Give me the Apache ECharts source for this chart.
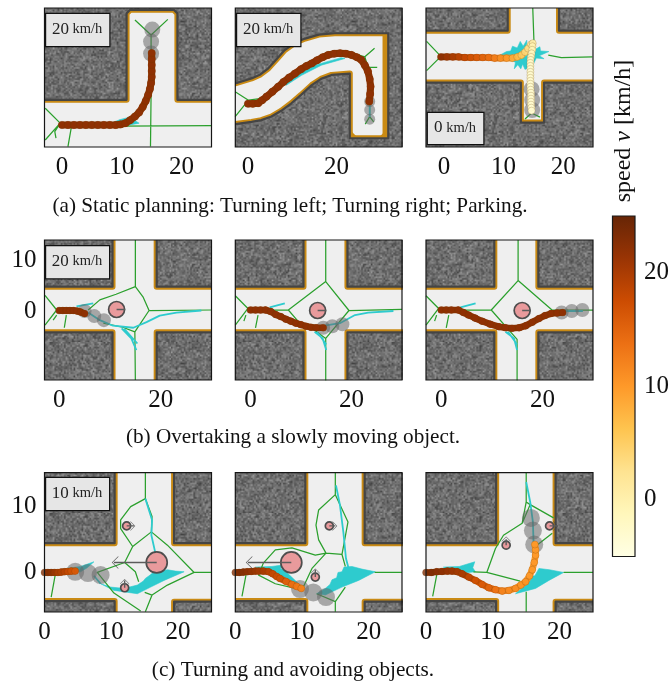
<!DOCTYPE html>
<html><head><meta charset="utf-8">
<style>html,body{margin:0;padding:0;background:#fff}#c{width:672px;height:687px}</style>
<script src="https://cdn.jsdelivr.net/npm/echarts@6/dist/echarts.min.js"></script>
</head><body><div id="c"></div>
<script>
/* ---------- colour scale ---------- */
const speedMin=-5, speedMax=25;
const speedRamp=['#ffffe5','#fff7bc','#fee391','#fec44f','#fe9929','#ec7014','#cc4c02','#993404','#662506'];
const speedTicks=[0,10,20];
/* ---------- tick labels ---------- */
const ticksA=[0,10,20], ticksP2=[0,20], ticksB=[0,20], ticksY=[0,10];
const captions=['(a) Static planning: Turning left; Turning right; Parking.','(b) Overtaking a slowly moving object.','(c) Turning and avoiding objects.'];
/* ---------- panel a1 ---------- */
const a1Walls=[[[-5,30],[-5,4.2],[10.8,4.2],[10.8,18.6],[11.4,19.2],[18.7,19.2],[19.3,18.6],[19.3,4.2],[30,4.2],[30,30]]];
const a1Green=[[[-2.8,2.8],[-.3,.3],[-2.8,-2.5]],[[-.3,.3],[-1.2,-1.1],[-1,-2.2]],[[1.6,-.2],[1,-3.6]],[[9.7,-.2],[25,-.1]],[[14.9,5.3],[14.8,-3.6]],[[12.2,17.5],[14.9,15],[17.7,17.6]],[[14.9,15],[14.9,12.5]]];
const a1Cyan=[[[8,.2],[9.7,.9],[11.3,1.3],[12.9,.3],[10.2,-.2]]];
const a1CyanLines=[];
const a1Ghost=[[15.1,15.9],[14.9,13.9],[14.9,11.9]];
const a1Path=[[0,0,22],[1,0,22],[2,0,22],[3,0,22],[4,0,22],[5,0,22],[6,0,22],[7,0,22],[8,0,22],[9,0,22],[9.8,.1,22],[10.6,.3,22],[11.4,.8,22],[12.2,1.4,22],[12.9,2.1,22],[13.5,3,22],[14,4,22],[14.4,5,22],[14.7,6,22],[14.9,7,22],[15,8,22],[15,9,22],[15,10,22],[15,11,22],[15,12,22]];
/* ---------- panel a2 ---------- */
const a2Walls=[[[-5,4.6],[-2.9,4.6],[.8,5.7],[2.8,6.6],[4.6,8],[6.4,10],[8.3,12.1],[10.5,13.7],[12.9,14.7],[16,15.6],[19.6,15.9],[31.7,15.9],[31.7,-7.8],[23,-7.8],[23,6.8],[18.9,6.5],[16.5,5.6],[14.4,4.2],[12,2],[9.8,.1],[7.5,-1.6],[5.3,-2.9],[3,-3.7],[.8,-4.1],[-2.9,-4.6],[-5,-4.6],[-5,-15],[40,-15],[40,30],[-5,30]]];
const a2Chamfer=[[[31.6,15.8],[30,15.8],[31.6,14]],[[23,-7.7],[23,-5.8],[24.8,-7.7]],[[31.6,-7.7],[29.5,-7.7],[31.6,-5.6]],[[30.4,15.8],[31.6,15.8],[31.6,-7.7],[30.4,-7.7]]];
const a2Green=[[[-2.9,2.7],[.1,.8],[-2.9,-2.9]],[[.1,.8],[3.1,1.2]],[[28.6,12.5],[26.4,10.6],[24.9,11]],[[26.4,10.6],[27.1,8.2],[29.2,8.2]],[[27.5,.1],[27.5,-2.9],[26.5,-4.6]],[[27.5,-2.9],[28.4,-4.1]]];
const a2Cyan=[[[7.6,4.6],[11.4,6.7],[15.1,8.7],[21.1,10.4],[21.9,10.2],[16.6,8.7],[12.1,6.4],[8.7,4.2]]];
const a2CyanLines=[[[27.5,.2],[27.5,-3]]];
const a2Ghost=[[27.5,.5],[27.5,-1.4],[27.5,-3.5]];
const a2Path=[[0,0,22],[1.1,.0,22],[2.3,.1,22],[3.2,.8,22],[4.2,1.6,22],[5.5,2.7,22],[6.8,3.8,22],[8,4.9,22],[9.3,5.9,22],[10.6,6.8,22],[12,7.8,22],[13.2,8.5,22],[14.4,9.1,22],[15.6,9.8,22],[16.9,10.5,22],[18.1,11,22],[19.5,11.3,22],[20.8,11.4,22],[22.1,11.3,22],[23.4,11,22],[24.6,10.5,22],[25.6,9.9,22],[26.4,8.7,22],[27.1,7.3,22],[27.5,5.6,22],[27.7,3.9,22],[27.6,2.2,22],[27.4,.5,22]];
/* ---------- panel a3 ---------- */
const a3Walls=[[[-5,12],[-5,4.4],[10.7,4.4],[10.7,12]],[[19.3,12],[19.3,4.4],[30,4.4],[30,12]],[[-5,-4.3],[12.9,-4.3],[12.9,-11],[16.8,-11],[16.8,-4.3],[30,-4.3],[30,-20],[-5,-20]]];
const a3Green=[[[-2.9,2.6],[-.5,.1],[-2.9,-2.3]],[[14.9,8.2],[15.1,2.6]],[[17.5,.3],[19.7,-.1],[24.9,0]],[[13.6,-10.4],[14.7,-9.4],[16.1,-10.1]]];
const a3Cyan=[[[9.4,.3],[10.5,.9],[11.2,1],[11.5,1.8],[12.3,1.5],[12.8,2.6],[13.3,1.8],[13.9,2.8],[13.9,1.7],[14.5,2],[15.2,1.2],[16.1,1.7],[16.2,1],[17.6,.9],[16,.2],[16.8,-.3],[15.5,-.2],[15,-1.2],[14.9,-3.9],[14.4,-3.9],[14.1,-1.8],[13.6,-2.1],[13.2,-1.2],[12.9,-2],[12.4,-1.3],[11.8,-2],[12,-.9],[11.3,-.6],[10.4,-.2]]];
const a3CyanLines=[];
const a3Ghost=[[14.7,-5.4],[14.8,-7.2],[14.8,-8.9]];
const a3Path=[[-.5,0,22],[.5,0,21],[1.5,0,20],[2.5,0,19],[3.5,-.1,18],[4.5,-.1,17],[5.5,-.1,16],[6.5,-.1,15],[7.5,-.1,14],[8.5,-.2,12.5],[9.5,-.2,11],[10.5,-.2,10],[11.5,-.2,8.5],[12.3,0,7],[13,.3,5.5],[13.6,.8,4],[14.1,1.4,3],[14.6,2.1,1.5],[14.9,2.3,0],[14.85,1.8,-.5],[14.8,1.2,-1],[14.7,.6,-1.5],[14.6,0,-2],[14.55,-.5,-2],[14.5,-1,-2.5],[14.5,-1.5,-2.5],[14.5,-2,-3],[14.5,-2.5,-3],[14.5,-3,-3],[14.5,-3.5,-3],[14.5,-4,-3],[14.5,-4.5,-3],[14.5,-5,-3],[14.55,-5.5,-3],[14.6,-6,-3],[14.6,-6.5,-3],[14.6,-7,-3],[14.6,-7.5,-3],[14.6,-8,-3],[14.65,-8.5,-3],[14.7,-9,-3]];
/* ---------- row b ---------- */
const bWalls=[[[-5,20],[-5,4.8],[10.5,4.8],[10.5,20]],[[19.2,20],[19.2,4.8],[35,4.8],[35,20]],[[-5,-20],[-5,-4.2],[10.5,-4.2],[10.5,-20]],[[19.2,-20],[19.2,-4.2],[35,-4.2],[35,-20]]];
const b1Green=[[[-2.8,3.1],[-.5,.2],[-2.8,-2.8]],[[-.5,-.8],[-1.2,-1.8]],[[1.4,-.8],[1,-3.3]],[[15,14],[15,4.8],[11.2,3.3],[8,2.2],[5.7,.2]],[[15,4.8],[16.5,2.8],[17.7,.1],[30,.2]],[[17.7,.1],[14.9,-4.1],[15,-13.6]],[[14.9,-4.1],[12.5,-3.2],[8.7,-2.4]]];
const b1Cyan=[];
const b1CyanLines=[[[5.7,-.3],[8,-1.8],[10.6,-2.9],[14.6,-3.3],[17.2,-2.2],[19.8,-.9],[23.1,-.3],[28,.1]],[[12.3,-3.4],[14.2,-5.4],[15.2,-7.7]],[[12.8,-3.5],[15.4,-6.4]],[[3.4,.9],[6.7,1.5]]];
const b1Ghost=[[5,0],[6.9,-1],[8.8,-1.8]];
const b1Ped=[[11.3,.3,16]];
const b1PedLines=[[[11.3,.3],[13,.3]]];
const b1Path=[[0,.1,22],[.7,.1,22],[1.4,.1,22],[2.1,.1,22],[2.8,.1,22],[3.5,0,22],[4.2,-.2,22],[5,-.5,22]];
const b2Green=[[[-3,3],[-.5,.5],[-3,-2.8]],[[-.9,-.8],[-1.3,-2]],[[1.5,-.8],[1,-3.3]],[[14.9,14],[14.9,5.8],[7.5,.2],[9.4,-2]],[[7.5,.2],[3,.2]],[[14.9,5.8],[19.5,.1],[30,.3]],[[19.5,.1],[14.9,-5.4],[14.9,-13.7]],[[14.9,-5.4],[12.7,-3.8]]];
const b2Cyan=[];
const b2CyanLines=[[[14.7,-2.9],[17.7,-2.4],[20.7,-.8],[23.3,-.3],[28.3,0]],[[12.7,-4.1],[14.3,-5.4],[15,-7.7]],[[13.2,-4.1],[15,-6.6]],[[3.8,.7],[6.8,1.5]]];
const b2Ghost=[[14.4,-3.3],[16.2,-3],[18.2,-2.6]];
const b2Ped=[[13.3,.1,16]];
const b2PedLines=[[[13.3,.1],[15,.1]]];
const b2Path=[[0,.2,22],[1,.2,22],[2,.2,22],[3,.2,22],[4,-.1,22],[5,-.7,22],[6,-1.1,22],[7,-1.6,22],[8,-2,22],[9,-2.4,22],[10,-2.7,22],[11,-3,22],[12,-3.2,22],[13,-3.3,22],[14.4,-3.3,22]];
const b3Green=[[[-3,3],[-.5,.5],[-3,-2.8]],[[-.9,-.8],[-1.3,-2]],[[1.5,-.8],[1,-3.3]],[[15.2,14],[15.2,6],[9.9,.2],[3,.2]],[[15.2,6],[21.9,.2],[30,.2]],[[9.9,.2],[15,-5.6],[15,-13.7]]];
const b3Cyan=[];
const b3CyanLines=[[[3.8,.7],[6.8,1.5]],[[12.7,-4.1],[14.4,-5.4],[15,-7.7]],[[13.2,-4.1],[15,-6.6]],[[23.5,0],[28,0]]];
const b3Ghost=[[23.8,-.3],[25.8,0],[27.9,.2]];
const b3Ped=[[16,.1,16]];
const b3PedLines=[[[16,.1],[17.7,.1]]];
const b3Path=[[0,.2,22],[1,.2,22],[2,.2,22],[3.4,.2,22],[4.4,-.3,22],[5.4,-.8,22],[6.7,-1.4,22],[8.1,-2,22],[9.7,-2.6,22],[11.4,-3.1,22],[12.7,-3.3,22],[14,-3.4,22],[15.4,-3.3,22],[16.7,-2.9,22],[18,-2.2,22],[19.3,-1.5,22],[20.5,-.9,22],[21.7,-.5,22],[22.9,-.4,22],[24,-.3,22]];
/* ---------- row c ---------- */
const cWalls=[[[-5,20],[-5,4.4],[10.5,4.4],[10.5,20]],[[19.4,20],[19.4,4.4],[30,4.4],[30,20]],[[-5,-10],[-5,-4.3],[10.5,-4.3],[10.5,-10]],[[19.4,-10],[19.4,-4.4],[30,-4.4],[30,-10]]];
const c1Green=[[[15.1,15],[15.1,11.1],[12.9,9.9],[11.4,7.9],[11.4,6.6],[13.2,3.9],[12,1.5]],[[15.1,11.1],[16.1,8.4],[16,6.1],[13.2,3.9]],[[16,6.1],[18.4,4.1],[22.4,0],[25,0]],[[22.4,0],[18.4,-1.9],[16.1,-3.4],[15.1,-5.9]],[[16.1,-3.4],[15,-3]],[[12,1.5],[7.9,0],[10.4,-3.1],[14.4,-5.8]],[[12,1.5],[13.6,.1],[14.1,-1.4]],[[1.6,-.4],[1,-3.7]]];
const c1Cyan=[[[8.4,-1.7],[10.4,-2.7],[13.9,-3.2],[15.9,-2.2],[17.9,-1.2],[20.9,.1],[19.6,.2],[18.4,.4],[17.4,.2],[16.4,.1],[15.8,-.4],[15.1,-.9],[14.8,-1.3],[13.9,-1.9],[11.9,-2.4],[9.9,-2.2]],[[2.6,.5],[5.4,.9],[7.4,1.6],[6.4,.7],[5.4,.1],[3.4,.1]]];
const c1CyanLines=[[[15.1,11.1],[16.1,7.9],[16,5.6],[16.6,2.9]],[[7.4,-.5],[8.4,-1.7]]];
const c1Ghost=[[4.6,.1],[6.5,-.1],[8.4,-.4]];
const c1Ped=[[16.8,1.5,21],[12.3,7,8],[12,-2.3,8]];
const c1PedLines=[[[16.8,1.5],[10.4,1.5]],[[12.3,7],[13.4,7]],[[12,-2.3],[12,-1.2]]];
const c1Heads=[[10.6,1.5,180,12],[13.2,7,0,9],[12,-1.4,90,9]];
const c1Path=[[0,0,23],[.5,0,22.5],[1,0,22],[1.5,0,21],[2,0,20],[2.5,.05,19.5],[3,.1,19],[3.5,.15,18],[4,.2,17],[4.6,.2,16]];
const c2Green=[[[15,15],[15,11.7],[12.5,9.4],[12.1,7.1],[12.5,4.9],[13.6,2.9]],[[15,11.7],[16.9,7.6],[16,2.7],[13.6,2.9]],[[16,2.7],[16.5,.9]],[[13.6,2.9],[12,2.6],[8.5,3.7],[6,3.4],[4.2,1.4],[3.5,-.4],[6,-1.7],[9,-2.4]],[[13.6,2.9],[11.5,.6],[10.2,-2.2]],[[16.5,-2.2],[15,-4.4],[15,-5.9]],[[12.2,-3.2],[15,-4.4]],[[20.9,0],[25,0]],[[1.6,-.4],[1,-3.6]]];
const c2Cyan=[[[12.2,-3.2],[13.5,-2.4],[14.2,-1.8],[14.5,-1.1],[15.2,-.8],[15.4,0],[16,.1],[16.3,.8],[17.5,.9],[19,.5],[21,.1],[18.5,-1.2],[16,-2.2],[13.5,-3.4]],[[3,.8],[5.5,.9],[7,1.1],[6.8,.6],[7.5,.2],[9.5,-1.7],[8,-1.2],[5,-.1]]];
const c2CyanLines=[[[15.1,13.1],[15.7,10.1],[16.2,6.1],[16.6,2.1],[17,.6]]];
const c2Ghost=[[9.7,-2.5],[11.7,-3],[13.6,-3.7]];
const c2Ped=[[8.4,1.5,21],[14.1,7,8],[12,-.7,8]];
const c2PedLines=[[[8.4,1.5],[1.9,1.5]],[[14.1,7],[15,7]],[[12,-.7],[12,.4]]];
const c2Heads=[[2.1,1.5,180,12],[14.9,7,0,9],[12,.2,90,9]];
const c2Path=[[0,0,23],[.6,0,23],[1.2,.05,22.5],[1.8,.1,22],[2.4,.15,21.5],[3,.2,21],[3.5,.2,20.5],[4.2,.2,20],[5,.1,19],[5.6,-.2,18],[6.2,-.6,17.5],[6.7,-.9,17],[7.6,-1.35,15.5],[8.5,-1.8,14],[9.2,-2.1,13],[9.9,-2.4,12]];
const c3Green=[[[15,15],[15,10.6],[14.4,7.4],[11.6,5.6],[10.4,3.6],[9.1,0],[14.1,-1.3]],[[9.1,0],[7.1,.1]],[[15,10.6],[15.6,10.2],[19.1,8.2]],[[14.4,7.4],[15.6,10.2]],[[18.9,5.9],[16.6,4.1]],[[15,-2.9],[15,-5.9]],[[20.6,0],[25,0]],[[1.6,-.4],[1,-3.6]]];
const c3Cyan=[[[13.4,-3.2],[15.4,-1.4],[15.6,-.6],[16.3,-.5],[16.9,.6],[18.5,.4],[20.6,0],[18.4,-1.2],[16.4,-2.4]],[[2.6,.8],[5,.9],[7.3,1.6],[7,.7],[7.4,.1],[4.4,-.2]]];
const c3CyanLines=[[[15,13.6],[15.6,10.6],[16,7.6],[16.1,4.6]]];
const c3Ghost=[[15.7,8.2],[16,6.3],[16.2,4.2]];
const c3Ped=[[12,4.1,8],[18.5,7,8]];
const c3PedLines=[[[12,4.1],[12,5]],[[18.5,7],[19.6,7]]];
const c3Heads=[[12,5,90,9],[19.4,7,0,9]];
const c3Path=[[0,0,23],[.8,0,23],[1.6,.1,22.5],[2.4,.15,22],[3.2,.2,21.5],[3.9,.2,21],[4.7,.1,20.5],[5.4,-.2,20],[6.4,-.7,18.5],[7.4,-1.2,17],[8.4,-1.8,16],[9.4,-2.3,15],[10.4,-2.6,13.5],[11.4,-2.8,12],[12.4,-2.7,11.5],[13.4,-2.4,11],[14.2,-1.9,10.5],[14.9,-1.4,10.5],[15.5,-.5,10],[15.9,.4,10],[16.2,1.5,10],[16.4,2.6,10],[16.4,3.4,10],[16.3,4.2,10]];
/* ---------- read-out boxes ---------- */
const boxA1='20', boxA2='20', boxA3='0', boxB1='20', boxC1='10';

const rampColor=v=>echarts.color.lerp(Math.max(0,Math.min(1,(v-speedMin)/(speedMax-speedMin))),speedRamp);

/* asphalt texture (deterministic hash, purely decorative) */
function makeAsphalt(){
  const s=107,small=document.createElement('canvas');small.width=small.height=s;
  const c=small.getContext('2d'),img=c.createImageData(s,s);
  let st=1234567;
  const next=()=>{st=(st*48271)%2147483647;return st/2147483647;};
  for(let i=0;i<200;i++)next();
  for(let y=0;y<s;y++)for(let x=0;x<s;x++){
    const n=(next()+next())/2;
    const g=Math.round(62+n*96),i=(y*s+x)*4;
    img.data[i]=img.data[i+1]=img.data[i+2]=g;img.data[i+3]=255;
  }
  c.putImageData(img,0,0);
  const T=Math.round(s*1.6),big=document.createElement('canvas');big.width=big.height=T;
  const b=big.getContext('2d');b.imageSmoothingEnabled=true;b.drawImage(small,0,0,T,T);
  return big;
}
const asphalt=makeAsphalt();

const chart=echarts.init(document.getElementById('c'),null,{renderer:'canvas'});
const SERIF='"Liberation Serif","Times New Roman",serif';
const grids=[],xAxes=[],yAxes=[],series=[],graphics=[];
const lab={fontFamily:SERIF,fontSize:25,color:'#111',margin:8};

function broken(list){const out=[];list.forEach((l,i)=>{if(i)out.push(['-','-']);l.forEach(p=>out.push(p));});return out;}
function polySeries(g,polys,style){
  return {type:'custom',xAxisIndex:g,yAxisIndex:g,clip:true,silent:true,data:polys.map((_,i)=>[i]),
    encode:{x:[],y:[]},
    renderItem:(p,api)=>({type:'polygon',shape:{points:polys[p.dataIndex].map(q=>api.coord(q))},style:Object.assign({},style)})};
}
function lineSeries(g,lines,color,width){
  return {type:'line',xAxisIndex:g,yAxisIndex:g,data:broken(lines),showSymbol:false,symbol:'none',silent:true,connectNulls:false,
    lineStyle:{color,width,join:'round'},z:2};
}
function addPanel(o){
  const g=grids.length;
  grids.push({left:o.box[0],top:o.box[1],width:o.box[2],height:o.box[3],show:true,backgroundColor:'#efefef',borderWidth:0,containLabel:false});
  xAxes.push({type:'value',gridIndex:g,min:o.x[0],max:o.x[1],splitLine:{show:false},axisLine:{show:false},axisTick:{show:false},
    axisLabel:Object.assign({},lab,{customValues:o.xTicks})});
  yAxes.push({type:'value',gridIndex:g,min:o.y[0],max:o.y[1],splitLine:{show:false},axisLine:{show:false},axisTick:{show:false},
    axisLabel:o.yTicks?Object.assign({},lab,{customValues:o.yTicks}):{show:false}});
  series.push(polySeries(g,o.walls,{fill:'none',stroke:'#c98a14',lineWidth:6,lineJoin:'round'}));
  if(o.chamfer)series.push(polySeries(g,o.chamfer,{fill:'#c98a14'}));
  series.push(polySeries(g,o.walls,{fill:{image:asphalt,repeat:'repeat'},stroke:'#454545',lineWidth:2.2,lineJoin:'round'}));
  series.push(lineSeries(g,o.green,'#2ba02d',1.25));
  if(o.cyan.length)series.push(polySeries(g,o.cyan,{fill:'#2ecbce',stroke:'#2ecbce',lineWidth:.6}));
  if(o.cyanLines.length)series.push(lineSeries(g,o.cyanLines,'#2ecbce',1.8));
  series.push({type:'scatter',xAxisIndex:g,yAxisIndex:g,data:o.ghost,symbolSize:o.ghostSize,silent:true,
    itemStyle:{color:'rgba(100,100,100,0.66)'},z:3});
  series.push({type:'custom',xAxisIndex:g,yAxisIndex:g,clip:true,silent:true,z:4,data:o.path,encode:{x:0,y:1},
    renderItem:(p,api)=>{
      const i=p.dataIndex;if(i>=o.path.length-1)return null;
      const a=api.coord(o.path[i]),b=api.coord(o.path[i+1]);
      return {type:'line',shape:{x1:a[0],y1:a[1],x2:b[0],y2:b[1]},style:{stroke:rampColor(o.path[i][2]),lineWidth:o.size-.4,lineCap:'round'}};
    }});
  series.push({type:'scatter',xAxisIndex:g,yAxisIndex:g,data:o.path,symbolSize:o.size,silent:true,z:5,
    itemStyle:{color:p=>rampColor(p.value[2]),borderColor:'rgba(110,60,0,0.45)',borderWidth:.6}});
  if(o.ped){
    series.push({type:'scatter',xAxisIndex:g,yAxisIndex:g,data:o.ped,symbolSize:v=>v[2],silent:true,z:6,
      itemStyle:{color:'#e99a9c',borderColor:'#4d4d4d',borderWidth:1.7,opacity:1}});
    series.push(Object.assign(lineSeries(g,o.pedLines,'#5c5c5c',1.4),{z:7}));
  }
  if(o.heads)series.push({type:'scatter',xAxisIndex:g,yAxisIndex:g,data:o.heads,silent:true,z:7,
    symbol:'path://M0,0 L6,6 L0,12 L1,12 L7,6 L1,0 Z',symbolKeepAspect:true,symbolSize:v=>v[3],symbolRotate:v=>v[2],
    itemStyle:{color:'#444'}});
  series.push({type:'custom',xAxisIndex:g,yAxisIndex:g,clip:false,silent:true,z:9,data:[[0]],encode:{x:[],y:[]},
    renderItem:p=>({type:'rect',shape:{x:p.coordSys.x,y:p.coordSys.y,width:p.coordSys.width,height:p.coordSys.height},style:{fill:'none',stroke:'#161616',lineWidth:1.2}})});
}
const rowA=[8,139], rowB=[240,140], rowC=[472.7,139.3];
const colL=[44.5,167], colM=[235.3,166.7], colR=[426,167];
addPanel({box:[colL[0],rowA[0],colL[1],rowA[1]],x:[-2.92,25],y:[-3.67,19.5],xTicks:ticksA,walls:a1Walls,green:a1Green,cyan:a1Cyan,cyanLines:a1CyanLines,ghost:a1Ghost,ghostSize:16,path:a1Path,size:7.5});
addPanel({box:[colM[0],rowA[0],colM[1],rowA[1]],x:[-2.87,34.8],y:[-9.77,21.6],xTicks:ticksP2,walls:a2Walls,chamfer:a2Chamfer,green:a2Green,cyan:a2Cyan,cyanLines:a2CyanLines,ghost:a2Ghost,ghostSize:11,path:a2Path,size:7.5});
addPanel({box:[colR[0],rowA[0],colR[1],rowA[1]],x:[-3,25],y:[-15.1,8.2],xTicks:ticksA,walls:a3Walls,green:a3Green,cyan:a3Cyan,cyanLines:a3CyanLines,ghost:a3Ghost,ghostSize:16,path:a3Path,size:7});
addPanel({box:[colL[0],rowB[0],colL[1],rowB[1]],x:[-2.9,30],y:[-13.6,14],xTicks:ticksB,yTicks:ticksY,walls:bWalls,green:b1Green,cyan:b1Cyan,cyanLines:b1CyanLines,ghost:b1Ghost,ghostSize:14,ped:b1Ped,pedLines:b1PedLines,path:b1Path,size:7});
addPanel({box:[colM[0],rowB[0],colM[1],rowB[1]],x:[-3,30],y:[-13.6,14],xTicks:ticksB,walls:bWalls,green:b2Green,cyan:b2Cyan,cyanLines:b2CyanLines,ghost:b2Ghost,ghostSize:14,ped:b2Ped,pedLines:b2PedLines,path:b2Path,size:7});
addPanel({box:[colR[0],rowB[0],colR[1],rowB[1]],x:[-3,30],y:[-13.6,14],xTicks:ticksB,walls:bWalls,green:b3Green,cyan:b3Cyan,cyanLines:b3CyanLines,ghost:b3Ghost,ghostSize:14,ped:b3Ped,pedLines:b3PedLines,path:b3Path,size:7});
addPanel({box:[colL[0],rowC[0],colL[1],rowC[1]],x:[0,25],y:[-5.95,15],xTicks:ticksA,yTicks:ticksY,walls:cWalls,green:c1Green,cyan:c1Cyan,cyanLines:c1CyanLines,ghost:c1Ghost,ghostSize:18,ped:c1Ped,pedLines:c1PedLines,heads:c1Heads,path:c1Path,size:7});
addPanel({box:[colM[0],rowC[0],colM[1],rowC[1]],x:[0,25],y:[-5.95,15],xTicks:ticksA,walls:cWalls,green:c2Green,cyan:c2Cyan,cyanLines:c2CyanLines,ghost:c2Ghost,ghostSize:18,ped:c2Ped,pedLines:c2PedLines,heads:c2Heads,path:c2Path,size:7});
addPanel({box:[colR[0],rowC[0],colR[1],rowC[1]],x:[0,25],y:[-5.95,15],xTicks:ticksA,walls:cWalls,green:c3Green,cyan:c3Cyan,cyanLines:c3CyanLines,ghost:c3Ghost,ghostSize:18,ped:c3Ped,pedLines:c3PedLines,heads:c3Heads,path:c3Path,size:7});

/* colour bar */
const cb=grids.length;
grids.push({left:612.5,top:216,width:22.7,height:340.5,show:false});
xAxes.push({type:'value',gridIndex:cb,min:0,max:1,show:false});
yAxes.push({type:'value',gridIndex:cb,min:speedMin,max:speedMax,position:'right',splitLine:{show:false},axisLine:{show:false},axisTick:{show:false},
  axisLabel:Object.assign({},lab,{customValues:speedTicks,margin:9})});
series.push({type:'custom',xAxisIndex:cb,yAxisIndex:cb,silent:true,data:[[0]],encode:{x:[],y:[]},
  renderItem:p=>({type:'rect',shape:{x:p.coordSys.x,y:p.coordSys.y,width:p.coordSys.width,height:p.coordSys.height},
    style:{fill:new echarts.graphic.LinearGradient(0,1,0,0,speedRamp.map((c,i)=>({offset:i/(speedRamp.length-1),color:c}))),stroke:'#1a1a1a',lineWidth:1.2}})});

/* read-out boxes */
function readout(x,y,w,h,val){
  graphics.push({type:'rect',left:x,top:y,z:20,shape:{width:w,height:h},style:{fill:'#e6e6e6',stroke:'#111',lineWidth:1.2}});
  graphics.push({type:'text',x:x+w/2,y:y+h/2,z:21,style:{text:'{n|'+val+'}{u| km/h}',align:'center',verticalAlign:'middle',
    rich:{n:{fontFamily:SERIF,fontSize:17,fill:'#222'},u:{fontFamily:SERIF,fontSize:14.5,fill:'#222'}}}});
}
readout(45,12.7,64.3,33.3,boxA1);
readout(236,12.7,64.3,33.3,boxA2);
readout(426.7,111.7,56.6,32.3,boxA3);
readout(45,245,64,33.3,boxB1);
readout(45,476.7,64,33.3,boxC1);

/* colour-bar label */
graphics.push({type:'text',x:623.5,y:131,rotation:Math.PI/2,z:21,style:{text:'{a|speed }{i|v}{a| [km/h]}',align:'center',verticalAlign:'middle',
  rich:{a:{fontFamily:SERIF,fontSize:24,fill:'#111'},i:{fontFamily:SERIF,fontSize:24,fontStyle:'italic',fill:'#111'}}}});

const titles=[[290,196],[293,427],[293,660]].map((p,i)=>({text:captions[i],left:p[0],top:p[1],textAlign:'center',padding:0,
  textStyle:{fontFamily:SERIF,fontSize:21.2,fontWeight:'normal',color:'#111'}}));

chart.setOption({animation:false,backgroundColor:'#fff',title:titles,grid:grids,xAxis:xAxes,yAxis:yAxes,series,graphic:{elements:graphics}});
</script></body></html>
